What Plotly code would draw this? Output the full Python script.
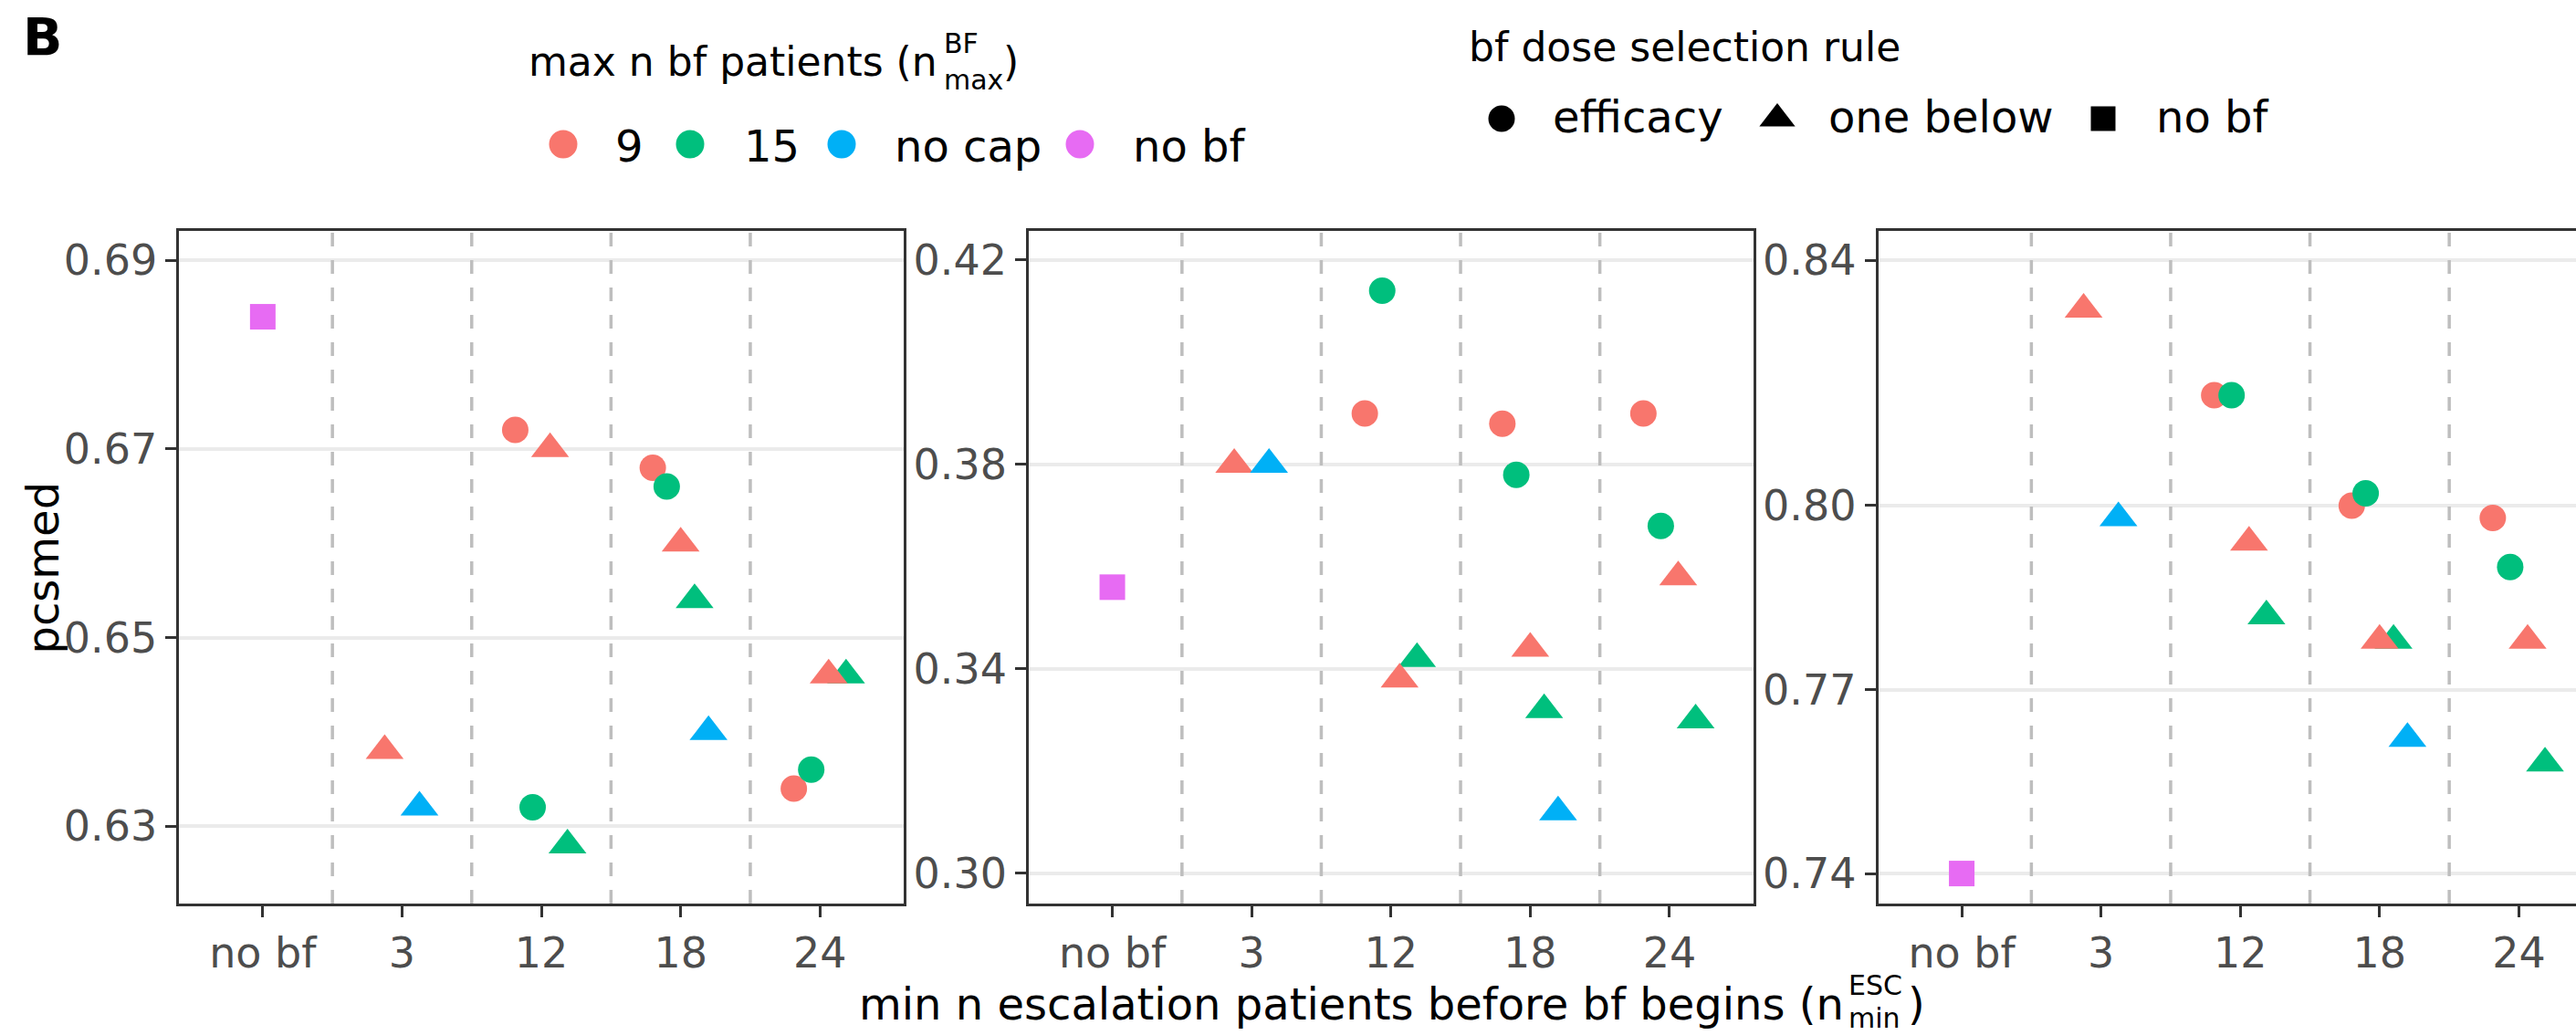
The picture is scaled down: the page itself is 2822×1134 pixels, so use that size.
import plotly.graph_objects as go

W, H = 2822, 1134
FONT = "DejaVu Sans"

# ---------------- data ----------------
categories = ["no bf", "3", "12", "18", "24"]

# rows = panels (left, middle, right); columns = categories
cap9_efficacy = [
    [None, None, 0.672, 0.668, 0.634],
    [None, None, 0.390, 0.388, 0.390],
    [None, None, 0.818, 0.800, 0.798],
]
cap15_efficacy = [
    [None, None, 0.632, 0.666, 0.636],
    [None, None, 0.414, 0.378, 0.368],
    [None, None, 0.818, 0.802, 0.790],
]
cap9_onebelow = [
    [None, 0.638, 0.670, 0.660, 0.646],
    [None, 0.380, 0.338, 0.344, 0.358],
    [None, 0.832, 0.794, 0.778, 0.778],
]
cap15_onebelow = [
    [None, None, 0.628, 0.654, 0.646],
    [None, None, 0.342, 0.332, 0.330],
    [None, None, 0.782, 0.778, 0.758],
]
nocap_onebelow = [
    [None, 0.632, None, 0.640, None],
    [None, 0.380, None, 0.312, None],
    [None, 0.798, None, 0.762, None],
]
nobf_nobf = [
    [0.684, None, None, None, None],
    [0.356, None, None, None, None],
    [0.740, None, None, None, None],
]

cap_levels = ["9", "15", "no cap", "no bf"]
rule_levels = ["efficacy", "one below", "no bf"]

y_tickvals = [
    [0.63, 0.65, 0.67, 0.69],
    [0.30, 0.34, 0.38, 0.42],
    [0.74, 0.77, 0.80, 0.84],
]
y_limits = [
    [0.6218, 0.6931],
    [0.2941, 0.4257],
    [0.7351, 0.8448],
]

# groups in dodge order: (values, cap level, rule level)
groups = [
    (cap9_efficacy, "9", "efficacy"),
    (cap15_efficacy, "15", "efficacy"),
    (cap9_onebelow, "9", "one below"),
    (cap15_onebelow, "15", "one below"),
    (nocap_onebelow, "no cap", "one below"),
    (nobf_nobf, "no bf", "no bf"),
]
draw_order = [0, 1, 3, 2, 4, 5]

# ---------------- styles ----------------
cap_colors = {"9": "#F8766D", "15": "#00BF7D", "no cap": "#00B0F6", "no bf": "#E76BF3"}
rule_symbols = {"efficacy": "circle", "one below": "triangle-up", "no bf": "square"}
rule_sizes = {"efficacy": 29, "one below": 36, "no bf": 28}
DODGE = 0.5

def px(x):
    return x / W

def py(y):
    return 1 - y / H

# panel geometry (pixels)
panel_left = [196.3, 1127.0, 2057.5]
panel_w = 793.5
panel_top, panel_bot = 253.0, 990.0
x_expand = 0.6
units = len(categories) - 1 + 2 * x_expand
px_per_unit = panel_w / units

fig = go.Figure()

# dodge offsets computed from groups present in each category
offsets = []
for p in range(3):
    offs = {}
    for c in range(len(categories)):
        present = [g for g in range(len(groups)) if groups[g][0][p][c] is not None]
        n = len(present)
        for i, g in enumerate(present):
            offs[(g, c)] = -DODGE / 2 + DODGE * (i + 0.5) / n
    offsets.append(offs)

# dashed separators between categories (drawn first, under the points)
for p in range(3):
    ax = "" if p == 0 else str(p + 1)
    for c in range(len(categories) - 1):
        b = c + 0.5
        fig.add_trace(go.Scatter(
            x=[b, b], y=[y_limits[p][0], y_limits[p][1]], mode="lines",
            xaxis="x" + ax, yaxis="y" + ax,
            line=dict(color="#bebebe", width=3.5, dash="15px,15px"),
            showlegend=False, hoverinfo="skip",
        ))

for p in range(3):
    ax = "" if p == 0 else str(p + 1)
    for g in draw_order:
        vals, cap, rule = groups[g]
        xs, ys = [], []
        for c, v in enumerate(vals[p]):
            if v is None:
                continue
            xs.append(c + offsets[p][(g, c)])
            ys.append(v)
        fig.add_trace(go.Scatter(
            x=xs, y=ys, mode="markers", xaxis="x" + ax, yaxis="y" + ax,
            marker=dict(color=cap_colors[cap], symbol=rule_symbols[rule],
                        size=rule_sizes[rule], line=dict(width=0), opacity=1),
            showlegend=False, hoverinfo="skip", cliponaxis=False,
        ))

layout = dict(
    width=W, height=H, margin=dict(l=0, r=0, t=0, b=0, pad=0),
    paper_bgcolor="white", plot_bgcolor="rgba(0,0,0,0)",
    font=dict(family=FONT, color="black"),
    showlegend=False,
)

for p in range(3):
    ax = "" if p == 0 else str(p + 1)
    x0 = panel_left[p]
    x1 = min(x0 + panel_w, W)
    span = (x1 - x0) / px_per_unit
    layout["xaxis" + ax] = dict(
        domain=[px(x0), px(x1)], range=[-x_expand, -x_expand + span],
        anchor="y" + ax, tickmode="array", tickvals=list(range(len(categories))),
        ticktext=categories, ticks="outside", ticklen=12, tickwidth=3,
        tickcolor="#333333", showline=True, linecolor="#333333", linewidth=2.7,
        mirror=True, showgrid=False, zeroline=False,
        tickfont=dict(family=FONT, size=46, color="#4d4d4d"), fixedrange=True,
    )
    layout["yaxis" + ax] = dict(
        domain=[py(panel_bot), py(panel_top)], range=y_limits[p],
        anchor="x" + ax, tickmode="array", tickvals=y_tickvals[p],
        ticktext=["%.2f" % v for v in y_tickvals[p]], ticks="outside",
        ticklen=12, tickwidth=3, tickcolor="#333333", showline=True,
        linecolor="#333333", linewidth=2.7, mirror=(p < 2), showgrid=True,
        gridcolor="#ebebeb", gridwidth=3.5, zeroline=False,
        tickfont=dict(family=FONT, size=46, color="#4d4d4d"), fixedrange=True,
    )

# overlay axis in pixel units for the legend keys
layout["xaxis4"] = dict(domain=[0, 1], range=[0, W], visible=False,
                        anchor="y4", fixedrange=True)
layout["yaxis4"] = dict(domain=[0, 1], range=[H, 0], visible=False,
                        anchor="x4", fixedrange=True)

# legend keys (positions in pixels)
cap_key_x = [617, 756, 922, 1183]
cap_text_x = [674, 815, 980, 1241]
cap_key_y, cap_text_y = 158, 160
rule_key_x = [1645, 1947, 2304]
rule_text_x = [1701, 2003, 2362]
rule_key_y, rule_text_y = 130, 128

fig.add_trace(go.Scatter(
    x=cap_key_x, y=[cap_key_y] * len(cap_levels), mode="markers",
    xaxis="x4", yaxis="y4",
    marker=dict(color=[cap_colors[c] for c in cap_levels], symbol="circle",
                size=31, line=dict(width=0), opacity=1),
    showlegend=False, hoverinfo="skip", cliponaxis=False,
))
fig.add_trace(go.Scatter(
    x=rule_key_x, y=[rule_key_y] * len(rule_levels), mode="markers",
    xaxis="x4", yaxis="y4",
    marker=dict(color="#000000", symbol=[rule_symbols[r] for r in rule_levels],
                size=[29, 34, 27], line=dict(width=0), opacity=1),
    showlegend=False, hoverinfo="skip", cliponaxis=False,
))

ann = []

def text(x, y, s, size, color="black", anchor="left", angle=0):
    ann.append(dict(
        x=px(x), y=py(y), xref="paper", yref="paper", text=s, showarrow=False,
        xanchor=anchor, yanchor="middle", textangle=angle,
        font=dict(family=FONT, size=size, color=color),
        borderpad=0, borderwidth=0,
    ))

# panel tag
text(25, 41, "<b>B</b>", 57)
# legend 1 title with stacked super/subscript
text(579, 67, "max n bf patients (n", 44)
text(1034, 47, "BF", 30)
text(1034, 87, "max", 30)
text(1099, 67, ")", 44)
for t, x in zip(cap_levels, cap_text_x):
    text(x, cap_text_y, t, 48)
# legend 2
text(1609, 51, "bf dose selection rule", 44)
for t, x in zip(rule_levels, rule_text_x):
    text(x, rule_text_y, t, 48)
# axis titles
text(46, (panel_top + panel_bot) / 2, "pcsmed", 48, anchor="center", angle=-90)
text(941, 1100, "min n escalation patients before bf begins (n", 48)
text(2025, 1079, "ESC", 30)
text(2025, 1115, "min", 30)
text(2090, 1100, ")", 48)

layout["annotations"] = ann
fig.update_layout(**layout)
fig.write_html("out.html")
